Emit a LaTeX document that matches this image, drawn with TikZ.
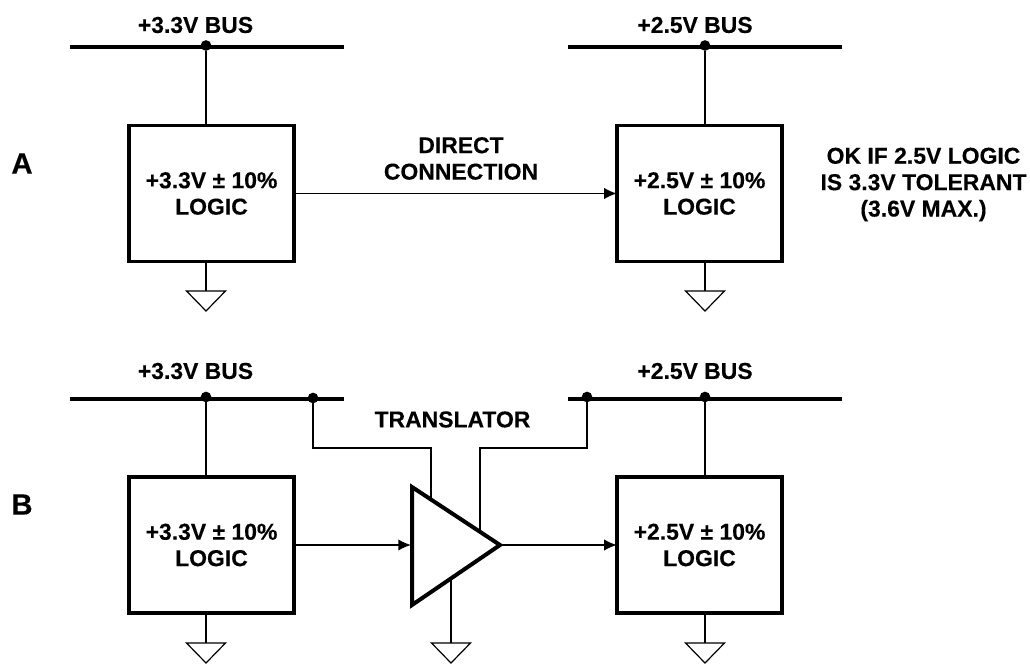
\documentclass[tikz,border=0pt]{standalone}
\usepackage{fontspec}
\setmainfont{Liberation Sans}[BoldFont={Liberation Sans Bold},BoldFeatures={FakeBold=0.25}]
\usetikzlibrary{arrows.meta}
\tikzset{
  x=0.75pt,y=-0.75pt,
  lbl/.style={font=\fontsize{17.2pt}{19.8pt}\selectfont\bfseries,align=center,inner sep=0pt,text=black},
  logicbox/.style={draw=black,line width=2.7pt,fill=white,minimum width=124pt,minimum height=102pt,inner sep=0pt,outer sep=0pt,
    font=\fontsize{17.2pt}{19.8pt}\selectfont\bfseries,align=center},
  bus/.style={line width=3pt,line cap=butt},
  wire/.style={line width=1.1pt},
  sig/.style={line width=1.1pt,-{Latex[length=9.5pt,width=8.5pt]}},
  busdot/.style={circle,fill=black,inner sep=0pt,minimum size=8pt,outer sep=0pt},
  gnd/.style={line width=0.9pt,line join=miter},
  amp/.style={line width=3pt,line join=miter,fill=white},
}
\newcommand{\gndsym}[1]{\draw[gnd] (#1) ++(-19.5,0) -- ++(39,0) -- ++(-19.5,20) -- cycle;}
\begin{document}
\begin{tikzpicture}
\useasboundingbox (0,0) rectangle (1030,663);
% --- A ---
\coordinate (b1l) at (70,47.5); \coordinate (b1r) at (344,47.5);
\coordinate (b2l) at (568,47.5); \coordinate (b2r) at (842,47.5);
\draw[bus] (b1l) -- (b1r);
\draw[bus] (b2l) -- (b2r);
\node[busdot] (d1) at (206,45.5) {};
\node[busdot] (d2) at (705,45.5) {};
\node[logicbox] (la) at (211.5,193.5) {+3.3V ± 10\%\\LOGIC};
\node[logicbox] (ra) at (699.5,193.5) {+2.5V ± 10\%\\LOGIC};
\coordinate (g1) at (206,291); \coordinate (g2) at (705,291);
\draw[wire] (d1) -- (d1 |- la.north);
\draw[wire] (d2) -- (d2 |- ra.north);
\draw[wire] (g1 |- la.south) -- (g1);
\draw[wire] (g2 |- ra.south) -- (g2);
\gndsym{g1} \gndsym{g2}
\draw[sig] (la.east) -- (ra.west);
\node[lbl] (t1) at (195.5,25) {+3.3V BUS};
\node[lbl] (t2) at (695,25) {+2.5V BUS};
\node[lbl] (tA) at (22,163.5) {\fontsize{22pt}{24pt}\selectfont A};
\node[lbl] (tdc) at (461,158.5) {DIRECT\\CONNECTION};
\node[lbl] (tok) at (923.5,184.5) {OK IF 2.5V LOGIC\\IS 3.3V TOLERANT\\(3.6V MAX.)};
% --- B ---
\coordinate (b3l) at (70,399); \coordinate (b3r) at (344,399);
\coordinate (b4l) at (568,399); \coordinate (b4r) at (842,399);
\draw[bus] (b3l) -- (b3r);
\draw[bus] (b4l) -- (b4r);
\node[busdot] (d3) at (206,397) {};
\node[busdot] (d4) at (313,398) {};
\node[busdot] (d5) at (587,397) {};
\node[busdot] (d6) at (705,397) {};
\node[logicbox] (lb) at (211.5,545) {+3.3V ± 10\%\\LOGIC};
\node[logicbox] (rb) at (699.5,545) {+2.5V ± 10\%\\LOGIC};
\coordinate (g3) at (206,643); \coordinate (g4) at (451,643); \coordinate (g5) at (705,643);
\draw[wire] (d3) -- (d3 |- lb.north);
\draw[wire] (d6) -- (d6 |- rb.north);
\draw[wire] (g3 |- lb.south) -- (g3);
\draw[wire] (g5 |- rb.south) -- (g5);
\coordinate (ampin) at (411,545);
\coordinate (ampout) at (500,545);
\coordinate (ampt) at (412,487);
\coordinate (ampb) at (412,605);
\coordinate (vi) at (431,448);
\coordinate (vo) at (480,448);
\draw[wire] (d4) |- (vi) -- (vi |- 0,505);
\draw[wire] (d5) |- (vo) -- (vo |- 0,535);
\draw[wire] (g4) -- (g4 |- 0,570);
\draw[amp] (ampt) -- (ampout) -- (ampb) -- cycle;
\gndsym{g3} \gndsym{g4} \gndsym{g5}
\draw[sig] (lb.east) -- (ampin);
\draw[sig] (ampout) -- (rb.west);
\node[lbl] (t3) at (195.5,371) {+3.3V BUS};
\node[lbl] (t4) at (695,371) {+2.5V BUS};
\node[lbl] (tB) at (22,504.5) {\fontsize{22pt}{24pt}\selectfont B};
\node[lbl] (ttr) at (452.5,419.5) {TRANSLATOR};
\end{tikzpicture}
\end{document}
